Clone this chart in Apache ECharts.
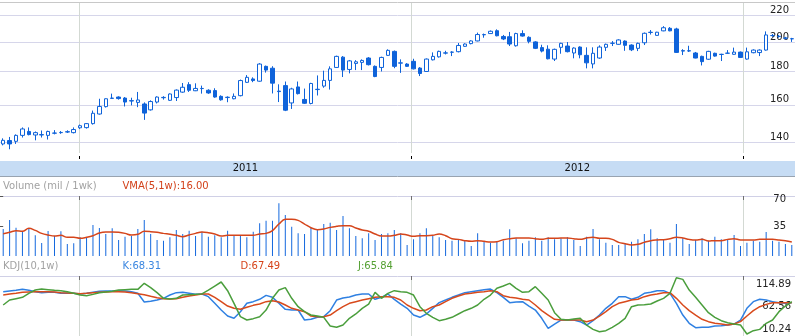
<!DOCTYPE html>
<html><head><meta charset="utf-8">
<script src="https://cdn.jsdelivr.net/npm/echarts@6.0.0/dist/echarts.min.js"></script>
<style>html,body{margin:0;padding:0;background:#fff}#c{width:795px;height:336px}</style>
</head><body><div id="c"></div>
<script>
// ---- weekly price data ----
const openP = [139.3,141.0,140.6,143.6,145.6,143.8,143.8,143.6,144.7,145.0,145.3,145.0,147.5,147.6,149.7,154.9,159.0,163.7,164.5,163.9,162.4,161.4,160.5,157.2,161.6,164.1,162.6,164.2,167.4,171.9,168.2,169.5,168.5,168.3,164.9,164.2,163.5,165.3,173.3,175.4,174.0,183.4,182.2,168.0,171.3,161.1,170.5,163.1,160.8,168.9,171.0,174.5,182.7,189.5,181.4,185.3,186.0,188.9,183.4,182.7,190.7,193.4,185.5,184.9,186.7,182.3,180.1,187.7,189.7,192.2,192.8,193.2,196.9,198.8,200.7,205.1,206.0,208.1,203.9,203.7,197.3,206.0,203.3,200.0,196.0,194.9,188.2,196.2,197.1,192.3,196.4,190.7,185.0,188.9,196.2,199.0,198.3,200.6,197.8,195.5,199.4,206.8,204.7,208.0,209.9,209.4,193.9,193.8,192.3,190.0,188.1,192.1,191.4,192.1,191.4,192.9,188.2,192.5,192.6,194.3,204.5,203.9,202.6,202.3];
const highP = [142.1,142.8,144.1,147.7,147.7,145.6,146.1,146.0,146.3,145.8,146.2,147.7,149.2,150.0,156.8,163.5,163.7,166.5,164.9,164.5,164.1,167.5,161.4,162.6,164.9,165.0,166.6,169.0,172.9,173.4,172.7,171.3,169.1,169.7,165.5,164.9,166.6,175.0,177.8,176.4,185.5,183.9,183.5,172.1,173.8,170.0,173.8,169.5,173.0,177.6,180.6,183.4,190.5,190.2,187.6,187.5,188.0,189.5,184.0,189.8,194.8,194.0,188.0,185.5,188.4,182.9,188.6,192.7,193.9,193.8,193.5,199.2,199.0,201.2,206.7,206.0,208.3,209.1,205.0,207.2,206.6,208.4,204.0,200.5,198.0,197.6,195.3,199.4,199.9,196.2,196.9,196.2,196.2,197.6,198.8,200.6,201.9,201.1,198.3,199.5,206.8,208.6,207.3,211.5,210.8,210.3,194.9,197.3,193.0,190.5,193.8,192.5,191.8,194.3,196.0,193.3,196.0,194.8,194.8,207.6,205.7,205.0,203.6,202.9];
const lowP = [138.6,136.7,139.3,142.5,143.6,141.1,142.5,141.5,144.1,144.4,144.8,144.6,146.9,147.1,149.2,154.6,158.5,163.6,163.0,159.1,159.7,158.7,151.7,156.8,160.8,163.0,162.2,162.2,167.0,167.5,168.0,166.5,166.4,164.1,162.4,161.5,163.2,164.9,172.9,173.4,173.7,179.4,166.6,161.6,156.5,157.7,166.0,160.5,160.3,165.4,170.0,168.9,182.4,176.6,178.9,181.0,181.0,184.0,176.5,180.1,190.4,182.2,179.2,183.0,181.4,177.2,179.8,187.3,189.2,191.3,190.2,192.7,196.5,198.3,200.4,203.0,205.8,204.0,201.3,197.1,196.7,203.8,199.0,195.0,192.7,188.0,186.9,191.8,192.7,188.7,188.7,182.1,182.1,188.4,193.7,197.1,198.0,193.8,193.6,193.6,197.8,205.3,204.5,207.7,207.7,192.3,190.9,193.0,188.7,184.0,187.7,189.8,186.9,191.8,191.1,188.9,187.8,192.1,190.2,193.9,203.6,203.0,201.8,200.0];
const closeP = [141.1,139.3,143.6,146.9,144.0,145.0,144.0,145.6,144.8,145.1,145.5,146.6,148.6,149.7,155.3,159.1,163.5,163.9,163.6,161.6,162.2,162.8,155.4,161.9,164.5,164.3,166.3,168.6,170.3,168.5,169.6,169.6,166.9,164.5,162.9,164.4,164.9,174.4,176.4,174.4,184.9,181.0,172.8,167.7,157.0,169.3,166.5,160.9,172.6,169.1,174.5,181.8,190.0,181.0,187.0,186.4,187.3,184.5,176.9,189.3,194.1,183.4,185.7,183.4,181.8,178.8,188.2,190.0,193.4,192.4,192.9,197.5,198.5,200.7,205.3,205.3,207.7,204.4,202.1,198.5,206.0,204.2,200.4,195.5,193.6,188.4,194.8,199.0,193.2,195.7,191.1,185.7,192.1,196.4,198.3,199.1,201.4,197.6,194.5,199.0,206.2,207.0,207.0,210.3,208.0,192.7,193.6,193.7,188.9,186.5,193.4,190.2,191.3,192.2,192.9,189.3,193.1,194.3,194.3,205.0,204.6,204.0,202.8,202.2];
// ---- volume (mil) and its 5-week average ----
const volume = [31.5,42.0,33.1,28.4,32.3,24.1,15.2,29.2,23.3,28.8,14.0,14.8,21.8,21.8,36.2,32.7,25.7,32.3,18.7,22.6,23.3,31.5,42.0,25.7,18.7,17.9,21.8,30.3,25.7,29.6,23.3,28.4,22.6,24.1,21.8,29.6,23.3,23.3,21.8,28.4,38.1,41.2,41.2,61.4,47.8,34.2,26.4,25.7,33.4,30.3,37.3,38.9,30.3,46.7,32.3,23.3,20.6,26.4,18.7,25.7,26.4,30.3,26.4,12.8,19.4,26.4,32.3,23.3,21.8,18.7,17.9,19.4,17.9,11.7,26.4,16.7,15.6,16.7,17.9,31.1,20.6,14.8,17.9,21.8,17.9,21.8,19.4,20.6,21.8,18.7,11.7,22.6,31.5,19.4,15.6,12.8,12.8,14.8,16.7,19.4,25.7,31.1,20.6,18.7,15.6,37.3,20.6,14.0,18.7,20.6,17.9,22.6,19.4,18.7,24.5,11.7,15.6,17.9,16.7,28.0,17.9,16.7,14.0,12.8];
const vma = [26.0,27.6,29.6,28.8,32.3,29.9,26.4,24.5,23.3,24.1,21.8,21.8,20.6,21.8,23.7,26.8,28.0,28.0,27.6,26.4,24.5,25.3,28.8,28.4,27.6,26.4,25.3,24.1,22.6,24.5,26.4,28.0,27.2,25.7,23.3,24.1,24.1,24.1,24.1,24.1,25.7,26.4,29.6,37.3,42.8,42.8,41.6,37.3,33.0,30.7,31.5,33.4,34.6,35.4,35.4,32.7,30.3,28.8,25.7,23.3,23.3,24.1,25.7,24.5,22.9,23.7,23.7,24.1,25.7,23.7,20.2,19.4,17.9,17.1,17.9,17.1,16.3,16.7,19.0,20.2,21.0,21.0,21.0,20.2,19.4,20.6,20.6,21.0,21.0,20.2,19.4,21.0,21.8,20.6,20.6,19.4,15.9,14.4,12.8,13.6,15.9,17.9,18.7,19.0,20.2,21.8,21.0,19.4,18.7,19.4,17.5,17.9,17.9,19.4,20.2,18.7,18.7,18.7,19.4,19.4,19.4,18.7,17.9,16.3];
// ---- KDJ(10,1w) ----
const kLine = [89.1,90.3,91.5,93.3,91.5,89.1,87.3,87.9,87.9,86.1,86.1,86.1,84.9,86.1,87.9,89.7,90.3,90.3,90.9,90.3,89.1,86.1,70.3,71.5,73.9,77.0,83.0,87.3,87.9,86.1,84.2,84.9,80.0,67.9,55.7,44.8,40.6,52.7,67.9,70.9,75.2,82.4,78.8,67.9,56.9,55.7,55.7,37.5,38.8,42.4,43.6,54.5,73.9,77.6,79.4,83.0,84.9,84.9,75.2,78.8,84.9,75.2,66.6,58.8,46.6,42.4,48.5,58.8,69.1,73.9,78.8,83.0,87.3,89.1,90.9,92.7,93.9,87.3,78.8,69.1,70.3,70.9,63.0,55.7,40.6,22.4,30.2,37.5,37.5,37.5,34.5,28.4,36.3,46.6,58.8,67.9,80.0,80.0,75.2,78.8,86.1,87.9,90.9,90.9,86.1,67.9,46.6,31.5,23.6,24.2,24.2,26.6,27.2,28.4,30.2,37.5,58.8,70.9,75.2,73.9,70.9,69.1,67.9,69.1];
const dLine = [83.0,84.9,86.1,87.9,88.5,89.1,89.1,89.1,88.5,87.3,86.7,86.1,85.5,86.1,87.3,87.9,88.5,89.1,89.1,88.5,87.3,85.5,83.6,80.6,78.2,76.4,75.8,76.4,78.8,81.2,83.0,84.9,84.9,78.8,70.9,63.0,58.8,57.0,60.6,64.2,66.6,70.9,72.7,70.3,64.8,58.8,55.7,52.7,44.8,43.6,43.6,46.6,54.5,61.8,67.9,70.9,73.9,76.4,78.8,80.0,80.0,78.8,73.9,64.8,58.8,54.5,55.7,61.8,64.8,70.9,77.0,81.2,84.9,86.1,87.9,89.1,90.9,89.1,81.8,78.8,77.6,75.2,73.9,64.8,54.5,46.6,38.8,37.5,37.5,37.5,37.5,34.5,37.5,44.8,52.7,61.8,67.9,70.9,73.9,75.2,80.0,83.0,84.9,87.3,87.3,77.0,64.8,54.5,46.6,38.8,34.5,31.5,30.2,28.4,30.2,34.5,44.8,54.5,61.8,66.0,69.1,69.1,69.1,69.1];
const jLine = [64.8,73.9,76.4,78.8,86.1,92.1,93.9,92.7,91.5,90.9,89.1,86.1,83.0,81.8,84.2,87.3,88.5,89.7,92.1,92.7,93.3,93.3,104.3,96.4,87.3,77.0,75.8,77.0,83.0,83.6,84.2,84.9,92.1,99.4,106.7,90.9,67.9,43.6,37.5,40.0,43.6,55.7,77.0,92.1,96.4,77.0,61.8,52.7,46.6,44.8,42.4,26.6,24.2,28.4,40.6,48.5,58.8,66.6,87.9,77.0,86.1,90.9,89.1,87.9,83.0,61.8,49.7,42.4,36.3,38.8,42.4,48.5,54.5,58.8,64.8,75.2,83.0,95.2,99.4,104.3,95.2,87.9,89.1,98.2,86.1,73.9,50.9,38.8,37.5,39.4,40.6,28.4,20.5,16.3,18.1,24.2,31.5,40.6,61.8,64.8,65.4,66.6,72.1,77.0,86.1,114.6,111.5,92.1,78.8,64.8,50.9,42.4,36.3,32.7,30.2,28.4,12.1,18.1,20.5,31.5,37.5,52.7,63.0,70.9];
// ---- axis ticks / labels ----
const priceTicks = [140,160,180,200,220];
const priceRange = [134.9, 230.4];
const volumeTicks = [35,70];
const volumeRange = [0,70];
const kdjTicks = [10.24,62.56,114.89];
const kdjRange = [8.42,117.62];
const yearStarts = [11.85,63.7,115.4];   // week index at which each calendar year begins
const yearLabels = ['2011','2012'];
const volumeTitle = 'Volume (mil / 1wk)';
const vmaTitle = 'VMA(5,1w):16.00';
const kdjTitle = 'KDJ(10,1w)';
const kdjLegend = ['K:68.31','D:67.49','J:65.84'];

const N = openP.length;
const categories = [];
const d0 = Date.UTC(2010,9,11);
for (let i=0;i<N;i++){ categories.push(new Date(d0+i*7*864e5).toISOString().slice(0,10)); }
const candles = openP.map((o,i)=>[Math.log(o),Math.log(closeP[i]),Math.log(lowP[i]),Math.log(highP[i])]);
const yearMid = yearLabels.map((_,i)=>(yearStarts[i]+yearStarts[i+1])/2);

const FONT = 'DejaVu Sans';
const BLUE = '#0f63da';
const LAV = '#d6d6ea';
const VLINE = '#d3d9d3';
const gridBase = {left:-1.5, right:-2};

function overlayX(grid, pos, extra){
  return Object.assign({
    type:'value', gridIndex:grid, min:-0.5, max:N-0.5, position:pos,
    axisLine:{show:false}, axisLabel:{show:false},
    axisTick:{show:false, customValues:yearStarts},
    splitLine:{show:true, lineStyle:{color:VLINE, width:1}}
  }, extra||{});
}

const chart = echarts.init(document.getElementById('c'), null, {renderer:'canvas'});
chart.setOption({
  animation:false,
  backgroundColor:'#fff',
  textStyle:{fontFamily:FONT},
  grid:[
    Object.assign({top:2, height:151}, gridBase),
    Object.assign({top:161, height:15, show:true, backgroundColor:'#c6dcf4', borderWidth:0, borderColor:'transparent'}, gridBase),
    Object.assign({top:196, height:60}, gridBase),
    Object.assign({top:276, height:60}, gridBase)
  ],
  xAxis:[
    {type:'category', gridIndex:0, data:categories, position:'top', boundaryGap:true,
      axisLine:{show:true, lineStyle:{color:'#c8c8c8'}}, axisTick:{show:false}, axisLabel:{show:false}, splitLine:{show:false}},
    overlayX(0,'bottom',{offset:3, axisTick:{show:true, customValues:yearStarts, length:3, lineStyle:{color:'#000'}}}),
    {type:'value', gridIndex:1, min:-0.5, max:N-0.5, position:'bottom',
      axisLine:{show:true, lineStyle:{color:'#98a3b0'}}, axisTick:{show:false, customValues:yearMid},
      splitLine:{show:false},
      axisLabel:{show:true, inside:true, customValues:yearMid, margin:7.5, verticalAlign:'middle',
        color:'#111', fontSize:10, fontFamily:FONT,
        formatter:(v)=>{const k=yearMid.findIndex(m=>Math.abs(m-v)<1e-6);return k>=0?yearLabels[k]:'';}}},
    {type:'category', gridIndex:2, data:categories, boundaryGap:true, show:false},
    overlayX(2,'top',{axisLine:{show:true, lineStyle:{color:'#d0d0e6'}}, axisTick:{show:true, inside:true, customValues:yearStarts, length:4, lineStyle:{color:'#707070'}}}),
    {type:'category', gridIndex:3, data:categories, boundaryGap:true, show:false},
    overlayX(3,'top',{axisLine:{show:true, lineStyle:{color:'#d0d0e6'}}, axisTick:{show:true, inside:true, customValues:yearStarts, length:4, lineStyle:{color:'#707070'}}})
  ],
  yAxis:[
    {type:'value', gridIndex:0, position:'right', min:Math.log(priceRange[0]), max:Math.log(priceRange[1]),
      axisLine:{show:false},
      axisTick:{show:false, customValues:priceTicks.map(Math.log)},
      axisLabel:{show:true, inside:true, margin:6, verticalAlign:'bottom', customValues:priceTicks.map(Math.log),
        color:'#222', fontSize:10, fontFamily:FONT, formatter:(v)=>String(Math.round(Math.exp(v)))},
      splitLine:{show:true, lineStyle:{color:LAV, width:1}}},
    {type:'value', gridIndex:1, min:0, max:1, show:false},
    {type:'value', gridIndex:2, position:'right', min:volumeRange[0], max:volumeRange[1],
      axisLine:{show:false},
      axisTick:{show:true, inside:true, length:6, customValues:volumeTicks, lineStyle:{color:'#555'}},
      splitLine:{show:false},
      axisLabel:{show:true, inside:true, margin:9, customValues:volumeTicks,
        formatter:(v)=> v===volumeRange[1] ? '{t|'+v+'}' : '{n|'+v+'}',
        rich:{t:{padding:[7,0,0,0], fontSize:10, fontFamily:FONT, color:'#222'}, n:{fontSize:10, fontFamily:FONT, color:'#222'}}}},
    {type:'value', gridIndex:3, position:'right', min:kdjRange[0], max:kdjRange[1],
      axisLine:{show:false}, axisTick:{show:false, customValues:kdjTicks}, splitLine:{show:false},
      axisLabel:{show:true, inside:true, margin:4, customValues:kdjTicks,
        formatter:(v)=> v===kdjTicks[2] ? '{t|'+v.toFixed(2)+'}' : (v===kdjTicks[0] ? '{b|'+v.toFixed(2)+'}' : '{n|'+v.toFixed(2)+'}'),
        rich:{t:{padding:[13,0,0,0], fontSize:10, fontFamily:FONT, color:'#222'},
              b:{padding:[0,0,11,0], fontSize:10, fontFamily:FONT, color:'#222'},
              n:{fontSize:10, fontFamily:FONT, color:'#222'}}}}
  ],
  series:[
    {type:'candlestick', xAxisIndex:0, yAxisIndex:0, data:candles, barWidth:4, clip:false,
      itemStyle:{color:'#ffffff', color0:BLUE, borderColor:BLUE, borderColor0:BLUE, borderWidth:1}},
    {type:'bar', xAxisIndex:3, yAxisIndex:2, data:volume, barWidth:1, itemStyle:{color:'#1468de'}},
    {type:'line', xAxisIndex:3, yAxisIndex:2, data:vma, smooth:0.4, symbol:'none', lineStyle:{color:'#d5451b', width:1.5}},
    {type:'line', xAxisIndex:5, yAxisIndex:3, data:kLine, symbol:'none', lineStyle:{color:'#2f80e2', width:1.5}},
    {type:'line', xAxisIndex:5, yAxisIndex:3, data:dLine, symbol:'none', lineStyle:{color:'#d84a1c', width:1.5}},
    {type:'line', xAxisIndex:5, yAxisIndex:3, data:jLine, symbol:'none', lineStyle:{color:'#4a9e3c', width:1.5}}
  ],
  graphic:[
    {type:'text', x:3, y:186, style:{text:volumeTitle, fill:'#a2a2a2', font:'10px "DejaVu Sans"', verticalAlign:'middle'}},
    {type:'text', x:122.5, y:186, style:{text:vmaTitle, fill:'#d2411a', font:'10px "DejaVu Sans"', verticalAlign:'middle'}},
    {type:'text', x:3, y:266, style:{text:kdjTitle, fill:'#a2a2a2', font:'10px "DejaVu Sans"', verticalAlign:'middle'}},
    {type:'text', x:122.5, y:266, style:{text:kdjLegend[0], fill:'#3a86e0', font:'10px "DejaVu Sans"', verticalAlign:'middle'}},
    {type:'text', x:240.5, y:266, style:{text:kdjLegend[1], fill:'#d6431a', font:'10px "DejaVu Sans"', verticalAlign:'middle'}},
    {type:'text', x:358, y:266, style:{text:kdjLegend[2], fill:'#54a033', font:'10px "DejaVu Sans"', verticalAlign:'middle'}}
  ]
});
</script></body></html>
